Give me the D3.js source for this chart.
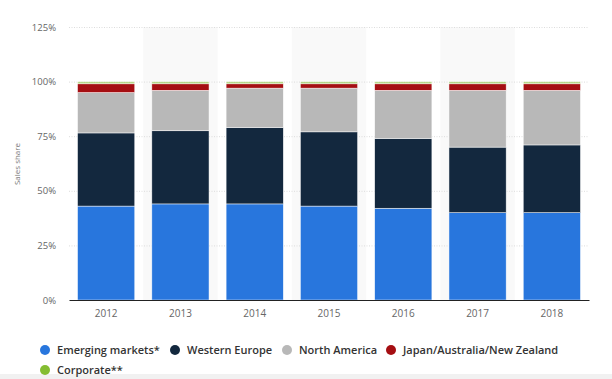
<!DOCTYPE html>
<html><head><meta charset="utf-8">
<script src="https://cdn.jsdelivr.net/npm/d3@7"></script>
<style>
html,body{margin:0;padding:0;background:#fff;}
svg{display:block;font-family:"Open Sans",Arial,sans-serif;}
</style></head>
<body>
<svg id="chart" width="612" height="379"></svg>
<script>
const years = ["2012","2013","2014","2015","2016","2017","2018"];
const seriesNames = ["Emerging markets*","Western Europe","North America","Japan/Australia/New Zealand","Corporate**"];
const seriesColors = ["#2876dd","#13283e","#b8b8b8","#a50e12","#84bd32"];
const emerging = [43, 44, 44, 43, 42, 40, 40];
const westernEurope = [33.5, 33.5, 35, 34, 32, 30, 31];
const northAmerica = [18.5, 18.5, 18, 20, 22, 26, 25];
const japanAusNz = [4, 3, 2, 2, 3, 3, 3];
const corporate = [1, 1, 1, 1, 1, 1, 1];
const yTicks = [0, 25, 50, 75, 100, 125];

const svg = d3.select("#chart");
const W = 612, H = 379;
const m = {left: 69, right: 23, top: 27, bottom: 79};
const x = d3.scaleBand().domain(years).range([m.left, W - m.right]).paddingInner(0.23).paddingOuter(0.115);
const y = d3.scaleLinear().domain([0, 125]).range([H - m.bottom, m.top]);

svg.append("rect").attr("x",0).attr("y",374).attr("width",W).attr("height",5).attr("fill","#f1f1f1");

const step = x.step();
svg.append("g").selectAll("rect").data(years.filter((d,i)=>i%2===1)).join("rect")
  .attr("x", d => x(d) - step*x.paddingInner()/2)
  .attr("width", step)
  .attr("y", y(125)).attr("height", y(0)-y(125))
  .attr("fill", "#f9f9f9");

svg.append("g").selectAll("line").data(yTicks.filter(t=>t>0)).join("line")
  .attr("x1", m.left).attr("x2", W - m.right)
  .attr("y1", d => y(d)+0.5).attr("y2", d => y(d)+0.5)
  .attr("stroke", "#dcdcdc").attr("stroke-dasharray", "1,1.5");

const table = years.map((yr,i)=>({year: yr, s0: emerging[i], s1: westernEurope[i], s2: northAmerica[i], s3: japanAusNz[i], s4: corporate[i]}));
const keys = ["s0","s1","s2","s3","s4"];
const stack = d3.stack().keys(keys)(table);

svg.append("g").selectAll("g").data(stack).join("g")
  .attr("fill", (d,i) => seriesColors[i])
  .attr("fill-opacity", (d,i) => i === 4 ? 0.55 : 1)
  .selectAll("rect").data(d => d).join("rect")
  .attr("x", d => x(d.data.year))
  .attr("width", x.bandwidth())
  .attr("y", d => y(d[1]))
  .attr("height", d => Math.max(0, y(d[0]) - y(d[1])))
  .attr("stroke", "#ffffff").attr("stroke-width", 0.6).attr("stroke-opacity", 0.8);

const yAxis = d3.axisLeft(y).tickValues(yTicks).tickFormat(d => d + "%").tickSize(0).tickPadding(13);
const ya = svg.append("g").attr("transform", `translate(${m.left},0)`).call(yAxis);
ya.select(".domain").remove();
ya.selectAll("text").attr("fill", "#666").attr("font-size", "9.5px").attr("font-family", "\"Open Sans\",Arial,sans-serif");

const xAxis = d3.axisBottom(x).tickSize(0).tickPadding(10);
const xa = svg.append("g").attr("transform", `translate(0,${y(0)})`).call(xAxis);
xa.select(".domain").attr("stroke", "#222").attr("stroke-width", 1.2);
xa.selectAll("text").attr("fill", "#666").attr("font-size", "10px").attr("font-family", "\"Open Sans\",Arial,sans-serif");

svg.append("text").attr("transform", `translate(20,164) rotate(-90)`)
  .attr("text-anchor","middle").attr("font-size","8px").attr("fill","#777").text("Sales share");

const legendPos = [[45,350],[175,350],[287,350],[391,350],[45,370]];
const lg = svg.append("g").selectAll("g").data(seriesNames).join("g")
  .attr("transform", (d,i) => `translate(${legendPos[i][0]},${legendPos[i][1]})`);
lg.append("circle").attr("r", 5).attr("fill", (d,i) => seriesColors[i]);
lg.append("text").attr("x", 12).attr("dy", "0.35em").attr("font-size", "11px").attr("font-weight", 600)
  .attr("fill", "#333").text(d => d);
</script>
</body></html>
